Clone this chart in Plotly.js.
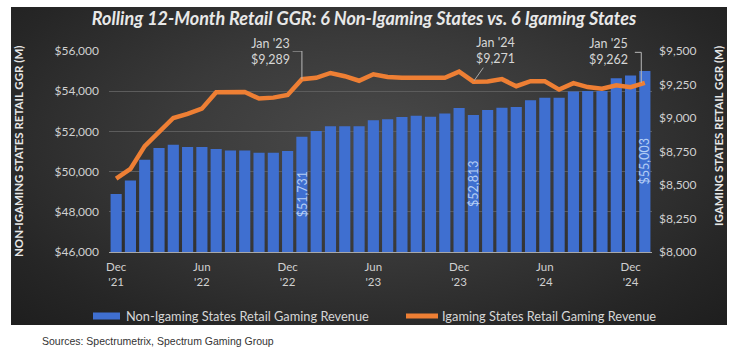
<!DOCTYPE html>
<html>
<head>
<meta charset="utf-8">
<script src="https://cdn.plot.ly/plotly-3.0.1.min.js"></script>
<style>
  html, body { margin: 0; padding: 0; background: #ffffff; }
  #wrap { position: relative; width: 741px; height: 354px; overflow: hidden; }
  #panel { position: absolute; left: 11px; top: 7px; width: 716px; height: 318px;
    background: radial-gradient(ellipse at 50% 42%, #4a4a4a 0%, #3a3a3a 40%, #262626 80%, #1e1e1e 100%); }
  #chart { position: absolute; left: 0; top: 0; width: 741px; height: 354px; }
</style>
</head>
<body>
<div id="wrap"><div id="panel"></div><div id="chart"></div></div>
<script>
// ---------- data ----------
const months = ["Dec '21","Jan '22","Feb '22","Mar '22","Apr '22","May '22","Jun '22","Jul '22","Aug '22","Sep '22","Oct '22","Nov '22",
  "Dec '22","Jan '23","Feb '23","Mar '23","Apr '23","May '23","Jun '23","Jul '23","Aug '23","Sep '23","Oct '23","Nov '23",
  "Dec '23","Jan '24","Feb '24","Mar '24","Apr '24","May '24","Jun '24","Jul '24","Aug '24","Sep '24","Oct '24","Nov '24",
  "Dec '24","Jan '25"];

const nonIgaming = [48880, 49560, 50590, 51170, 51330, 51230, 51220, 51120, 51055, 51055, 50935, 50935,
  51030, 51731, 52015, 52255, 52255, 52255, 52555, 52610, 52715, 52775, 52725, 52890,
  53170, 52813, 53060, 53175, 53210, 53555, 53670, 53670, 53990, 54005, 54005, 54650,
  54785, 55003];

const igaming = [8548, 8620, 8790, 8890, 9000, 9030, 9070, 9192, 9190, 9194, 9145, 9152,
  9172, 9289, 9300, 9336, 9312, 9278, 9326, 9306, 9300, 9300, 9300, 9300,
  9346, 9271, 9272, 9290, 9237, 9275, 9274, 9212, 9260, 9231, 9219, 9244,
  9230, 9262];

const tickMonths = ["Dec '21","Jun '22","Dec '22","Jun '23","Dec '23","Jun '24","Dec '24"];
const tickLabels = ["Dec<br>'21","Jun<br>'22","Dec<br>'22","Jun<br>'23","Dec<br>'23","Jun<br>'24","Dec<br>'24"];
const labeledMonths = ["Jan '23","Jan '24","Jan '25"];

const seriesNames = ["Non-Igaming States Retail Gaming Revenue", "Igaming States Retail Gaming Revenue"];
const titleText = "Rolling 12-Month Retail GGR: 6 Non-Igaming States vs. 6 Igaming States";
const leftTitle = "NON-IGAMING STATES RETAIL GGR (M)";
const rightTitle = "IGAMING STATES RETAIL GGR (M)";
const sourceText = "Sources: Spectrumetrix, Spectrum Gaming Group";

// ---------- layout helpers ----------
const W = 741, H = 354;
const M = { l: 109, r: 89, t: 51, b: 102 };
const PW = W - M.l - M.r, PH = H - M.t - M.b;
const px2x = px => (px - M.l) / PW;
const py2y = py => (H - M.b - py) / PH;

const fmt = v => '$' + v.toLocaleString('en-US');
const FONT = 'Lato, "Open Sans", sans-serif';
const TXT = '#d6d6d6';
const Y1 = [46000, 56000], Y2 = [8000, 9500];

const traces = [
  {
    type: 'bar', x: months, y: nonIgaming, name: seriesNames[0],
    marker: { color: '#3f6fd0' }, hoverinfo: 'x+y'
  },
  {
    type: 'scatter', mode: 'lines', x: months, y: igaming, yaxis: 'y2', name: seriesNames[1],
    line: { color: '#ee7f34', width: 4.5 }, hoverinfo: 'x+y'
  }
];

const annotations = [];
const shapes = [];
const idxOf = m => months.indexOf(m);

// value labels inside the labelled bars (rotated, centred in the bar)
labeledMonths.forEach(m => {
  const i = idxOf(m);
  annotations.push({ xref: 'x', x: m, yref: 'y', y: (Y1[0] + nonIgaming[i]) / 2, textangle: -90,
    showarrow: false, xanchor: 'center', yanchor: 'middle', text: fmt(nonIgaming[i]),
    font: { family: FONT, size: 12.5, color: '#b3cdf5' } });
});

// Jan '23 : L-shaped leader
{
  const i = idxOf(labeledMonths[0]);
  annotations.push({ xref: 'x', x: i - 2.2, yref: 'paper', y: py2y(51), xanchor: 'center', yanchor: 'middle',
    text: labeledMonths[0] + '<br>' + fmt(igaming[i]), showarrow: false, align: 'center',
    font: { family: FONT, size: 12.5, color: TXT } });
  shapes.push({ type: 'line', xref: 'x', yref: 'y2', x0: i, x1: i, y0: igaming[i], y1: Y2[1], line: { color: '#b8b8b8', width: 1 } });
  shapes.push({ type: 'line', xref: 'x', yref: 'y2', x0: i - 0.65, x1: i, y0: Y2[1], y1: Y2[1], line: { color: '#b8b8b8', width: 1 } });
}
// Jan '24 : diagonal leader
{
  const i = idxOf(labeledMonths[1]);
  annotations.push({ xref: 'x', x: i, yref: 'y2', y: igaming[i], ax: 22, ay: -31, axref: 'pixel', ayref: 'pixel',
    text: labeledMonths[1] + '<br>' + fmt(igaming[i]), showarrow: true, arrowhead: 0, arrowwidth: 1,
    arrowcolor: '#a8a8a8', standoff: 1, align: 'center',
    font: { family: FONT, size: 12.5, color: TXT } });
}
// Jan '25 : L-shaped leader
{
  const i = idxOf(labeledMonths[2]);
  annotations.push({ xref: 'x', x: i - 2.55, yref: 'paper', y: py2y(52), xanchor: 'center', yanchor: 'middle',
    text: labeledMonths[2] + '<br>' + fmt(igaming[i]), showarrow: false, align: 'center',
    font: { family: FONT, size: 12.5, color: TXT } });
  shapes.push({ type: 'line', xref: 'x', yref: 'y2', x0: i - 0.25, x1: i - 0.25, y0: igaming[i], y1: Y2[1] - 10, line: { color: '#b8b8b8', width: 1 } });
  shapes.push({ type: 'line', xref: 'x', yref: 'y2', x0: i - 0.7, x1: i - 0.25, y0: Y2[1] - 10, y1: Y2[1] - 10, line: { color: '#b8b8b8', width: 1 } });
}

// axis titles
annotations.push({ xref: 'paper', yref: 'paper', x: px2x(18), y: py2y(152), textangle: -90, showarrow: false,
  xanchor: 'center', yanchor: 'middle', text: leftTitle,
  font: { family: FONT, size: 11.5, color: '#e6e6e6', weight: 'bold' } });
annotations.push({ xref: 'paper', yref: 'paper', x: px2x(718), y: py2y(136), textangle: -90, showarrow: false,
  xanchor: 'center', yanchor: 'middle', text: rightTitle,
  font: { family: FONT, size: 11.5, color: '#e6e6e6', weight: 'bold' } });

// custom legend
shapes.push({ type: 'rect', xref: 'paper', yref: 'paper', x0: px2x(93), x1: px2x(120), y0: py2y(319.5), y1: py2y(312.5),
  fillcolor: '#3f6fd0', line: { width: 0 } });
annotations.push({ xref: 'paper', yref: 'paper', x: px2x(124), y: py2y(316), xanchor: 'left', yanchor: 'middle',
  showarrow: false, text: seriesNames[0], font: { family: FONT, size: 12.8, color: TXT } });
shapes.push({ type: 'rect', xref: 'paper', yref: 'paper', x0: px2x(406), x1: px2x(438), y0: py2y(318.5), y1: py2y(313.5),
  fillcolor: '#ee7f34', line: { width: 0 } });
annotations.push({ xref: 'paper', yref: 'paper', x: px2x(440), y: py2y(316), xanchor: 'left', yanchor: 'middle',
  showarrow: false, text: seriesNames[1], font: { family: FONT, size: 12.8, color: TXT } });

// source
annotations.push({ xref: 'paper', yref: 'paper', x: px2x(40), y: py2y(341), xanchor: 'left', yanchor: 'middle',
  showarrow: false, text: sourceText, font: { family: '"Liberation Sans", Arial, sans-serif', size: 10.5, color: '#333333' } });

const layout = {
  width: W, height: H,
  margin: M,
  paper_bgcolor: 'rgba(0,0,0,0)', plot_bgcolor: 'rgba(0,0,0,0)',
  showlegend: false,
  bargap: 0.22,
  title: { text: titleText, x: 364 / W, xanchor: 'center', y: 1 - 19 / H, yanchor: 'middle',
    font: { family: FONT, size: 18, color: '#e8e8e8', weight: 'bold', style: 'italic' } },
  xaxis: {
    type: 'category', range: [-0.5, months.length - 0.5],
    tickvals: tickMonths, ticktext: tickLabels, ticks: '', ticklabelstandoff: 4,
    tickfont: { family: FONT, size: 11.5, color: '#d0d0d0' },
    showline: true, linecolor: '#a8a8a8', linewidth: 1, showgrid: false, zeroline: false, fixedrange: true
  },
  yaxis: {
    range: Y1, dtick: 2000, tick0: Y1[0], tickprefix: '$', tickformat: ',d', ticks: '',
    ticklabelstandoff: 9,
    tickfont: { family: FONT, size: 12, color: '#d0d0d0' },
    gridcolor: '#5c5c5c', gridwidth: 1, zeroline: false, showline: false, fixedrange: true
  },
  yaxis2: {
    overlaying: 'y', side: 'right', range: Y2, dtick: 250, tick0: Y2[0], tickprefix: '$', tickformat: ',d',
    ticks: '', ticklabelstandoff: 6,
    tickfont: { family: FONT, size: 12, color: '#d0d0d0' },
    showgrid: false, zeroline: false, showline: false, fixedrange: true
  },
  annotations: annotations,
  shapes: shapes
};

Plotly.newPlot('chart', traces, layout, { displayModeBar: false, staticPlot: true });
</script>
</body>
</html>
